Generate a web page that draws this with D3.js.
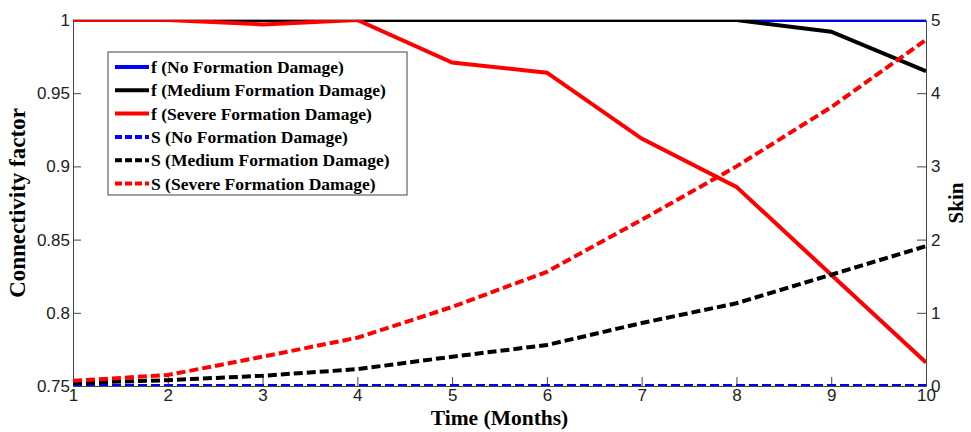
<!DOCTYPE html>
<html>
<head>
<meta charset="utf-8">
<script src="https://cdn.jsdelivr.net/npm/d3@7"></script>
<style>
  body { margin: 0; background: #fff; }
  .tick text { font-family: "Liberation Sans", Arial, sans-serif; font-size: 17px; fill: #222; }
  .axis path, .axis line { stroke: #444; }
</style>
</head>
<body>
<svg id="chart" width="971" height="432"></svg>
<script>
// time in months
var months = [1, 2, 3, 4, 5, 6, 7, 8, 9, 10];

// connectivity factor (left axis)
var fNo     = [1, 1, 1, 1, 1, 1, 1, 1, 1, 1];
var fMedium = [1, 1, 1, 1, 1, 1, 1, 1, 0.992, 0.965];
var fSevere = [1, 1, 0.997, 1, 0.971, 0.964, 0.919, 0.886, 0.826, 0.766];

// skin (right axis)
var sNo     = [0, 0, 0, 0, 0, 0, 0, 0, 0, 0];
var sMedium = [0.04, 0.08, 0.14, 0.23, 0.40, 0.56, 0.86, 1.13, 1.52, 1.91];
var sSevere = [0.07, 0.15, 0.40, 0.66, 1.08, 1.56, 2.27, 3.00, 3.81, 4.73];

var xTicks = [1, 2, 3, 4, 5, 6, 7, 8, 9, 10];
var leftTicks = [0.75, 0.8, 0.85, 0.9, 0.95, 1];
var rightTicks = [0, 1, 2, 3, 4, 5];

var series = [
  { label: "f (No Formation Damage)",      values: fNo,     axis: "left",  color: "#0000ff", dashed: false },
  { label: "f (Medium Formation Damage)",  values: fMedium, axis: "left",  color: "#000000", dashed: false },
  { label: "f (Severe Formation Damage)",  values: fSevere, axis: "left",  color: "#ff0000", dashed: false },
  { label: "S (No Formation Damage)",      values: sNo,     axis: "right", color: "#0000ff", dashed: true },
  { label: "S (Medium Formation Damage)",  values: sMedium, axis: "right", color: "#000000", dashed: true },
  { label: "S (Severe Formation Damage)",  values: sSevere, axis: "right", color: "#ff0000", dashed: true }
];

var pL = 73, pR = 926, pT = 20, pB = 386;
var svg = d3.select("#chart");

var x = d3.scaleLinear().domain([1, 10]).range([pL, pR]);
var yL = d3.scaleLinear().domain([0.75, 1]).range([pB, pT]);
var yR = d3.scaleLinear().domain([0, 5]).range([pB, pT]);

svg.append("clipPath").attr("id", "plotclip")
  .append("rect").attr("x", pL).attr("y", pT)
  .attr("width", pR - pL).attr("height", pB - pT);

// top border
svg.append("line")
  .attr("x1", pL).attr("x2", pR).attr("y1", pT).attr("y2", pT)
  .attr("stroke", "#444");

svg.append("g").attr("class", "axis")
  .attr("transform", "translate(0," + pB + ")")
  .call(d3.axisBottom(x).tickValues(xTicks).tickFormat(d3.format("d")).tickSizeInner(-9).tickSizeOuter(0).tickPadding(3));

svg.append("g").attr("class", "axis")
  .attr("transform", "translate(" + pL + ",0)")
  .call(d3.axisLeft(yL).tickValues(leftTicks).tickFormat(function(d) { return String(+d.toFixed(2)); }).tickSizeInner(-8).tickSizeOuter(0).tickPadding(3));

svg.append("g").attr("class", "axis")
  .attr("transform", "translate(" + pR + ",0)")
  .call(d3.axisRight(yR).tickValues(rightTicks).tickFormat(d3.format("d")).tickSizeInner(-9).tickSizeOuter(0).tickPadding(5));

// lines
var lines = svg.append("g").attr("clip-path", "url(#plotclip)");
series.forEach(function(s) {
  var ys = s.axis === "left" ? yL : yR;
  var line = d3.line()
    .x(function(d, i) { return x(months[i]); })
    .y(function(d) { return ys(d); });
  lines.append("path")
    .datum(s.values)
    .attr("d", line)
    .attr("fill", "none")
    .attr("stroke", s.color)
    .attr("stroke-width", 4)
    .attr("stroke-dasharray", s.dashed ? "9,4" : null);
});

// axis titles
svg.append("text")
  .attr("x", (pL + pR) / 2).attr("y", 425)
  .attr("text-anchor", "middle")
  .style("font-family", "'Liberation Serif', 'Times New Roman', serif")
  .style("font-weight", "bold").style("font-size", "21.5px")
  .text("Time (Months)");

svg.append("text")
  .attr("transform", "translate(25," + (pT + pB) / 2 + ") rotate(-90)")
  .attr("text-anchor", "middle")
  .style("font-family", "'Liberation Serif', 'Times New Roman', serif")
  .style("font-weight", "bold").style("font-size", "23px")
  .text("Connectivity factor");

svg.append("text")
  .attr("transform", "translate(963," + (pT + pB) / 2 + ") rotate(-90)")
  .attr("text-anchor", "middle")
  .style("font-family", "'Liberation Serif', 'Times New Roman', serif")
  .style("font-weight", "bold").style("font-size", "21px")
  .text("Skin");

// legend
var legend = svg.append("g");
legend.append("rect")
  .attr("x", 108).attr("y", 52).attr("width", 299).attr("height", 143)
  .attr("fill", "#fff").attr("stroke", "#444");

series.forEach(function(s, i) {
  var ly = 67 + i * 23.3;
  legend.append("line")
    .attr("x1", 115).attr("x2", 149).attr("y1", ly).attr("y2", ly)
    .attr("stroke", s.color).attr("stroke-width", 4)
    .attr("stroke-dasharray", s.dashed ? "7,3" : null);
  legend.append("text")
    .attr("x", 151).attr("y", ly).attr("dy", "0.35em")
    .style("font-family", "'Liberation Serif', 'Times New Roman', serif")
    .style("font-weight", "bold").style("font-size", "17.5px")
    .text(s.label);
});
</script>
</body>
</html>
